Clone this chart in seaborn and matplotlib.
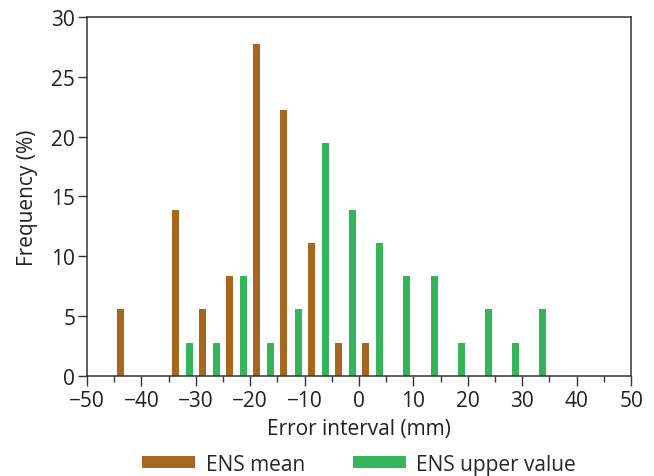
import matplotlib
matplotlib.use("Agg")
import matplotlib.pyplot as plt
import seaborn as sns
import pandas as pd
from matplotlib.patches import Patch
from matplotlib.ticker import MultipleLocator

bin_centers = [-42.5, -37.5, -32.5, -27.5, -22.5, -17.5, -12.5, -7.5, -2.5,
               2.5, 7.5, 12.5, 17.5, 22.5, 27.5, 32.5]
ens_mean = [5.56, 0, 13.89, 5.56, 8.33, 27.78, 22.22, 11.11, 2.78,
            2.78, 0, 0, 0, 0, 0, 0]
ens_upper = [0, 0, 2.78, 2.78, 8.33, 2.78, 5.56, 19.44, 13.89,
             11.11, 8.33, 8.33, 2.78, 5.56, 2.78, 5.56]
series_names = ["ENS mean", "ENS upper value"]
colors = ["#A9661E", "#34B55A"]

df = pd.concat([
    pd.DataFrame({"x": bin_centers, "freq": ens_mean, "series": series_names[0]}),
    pd.DataFrame({"x": bin_centers, "freq": ens_upper, "series": series_names[1]}),
])

sns.set_style("ticks")
plt.rcParams["font.family"] = ["Open Sans", "DejaVu Sans"]
fs = 15
plt.rcParams["font.size"] = fs

fig = plt.figure(figsize=(6.54, 4.77), dpi=100)
ax = fig.add_axes([0.133, 0.21, 0.832, 0.752])

sns.barplot(data=df, x="x", y="freq", hue="series", native_scale=True,
            palette=colors, saturation=1, width=1.04, gap=0.5, linewidth=0,
            ax=ax, legend=False, errorbar=None)

ax.set_xlim(-50, 50)
ax.set_ylim(0, 30)
ax.xaxis.set_major_locator(MultipleLocator(10))
ax.xaxis.set_minor_locator(MultipleLocator(5))
ax.yaxis.set_major_locator(MultipleLocator(5))
for s in ax.spines.values():
    s.set_visible(True)
    s.set_color("#333333")
    s.set_linewidth(1.1)
ax.tick_params(axis="both", which="major", labelsize=fs, color="#333333",
               width=1, labelcolor="#231F20")
ax.tick_params(axis="x", which="major", length=7, pad=3)
ax.tick_params(axis="x", which="minor", length=4.5, width=1, color="#333333")
ax.tick_params(axis="y", which="major", length=6.5, pad=2)

ax.set_xlabel("Error interval (mm)", fontsize=fs, color="#231F20", va="center")
ax.xaxis.set_label_coords(0.5, -0.148)
ax.set_ylabel("Frequency (%)", fontsize=fs, color="#231F20", va="center")
ax.yaxis.set_label_coords(-0.11, 0.5)

handles = [Patch(facecolor=c, edgecolor="none", label=n) for c, n in zip(colors, series_names)]
fig.legend(handles=handles, loc="center", bbox_to_anchor=(0.549, 0.025),
           ncol=2, frameon=False, fontsize=fs, handlelength=2.55, handleheight=0.5,
           handletextpad=0.5, columnspacing=2.3, borderpad=0.2)

fig.savefig("out.png", dpi=100)
